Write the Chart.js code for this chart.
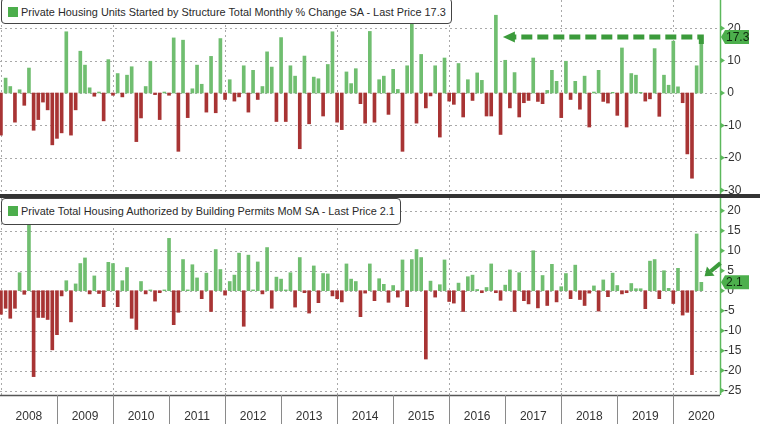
<!DOCTYPE html>
<html><head><meta charset="utf-8">
<script src="https://cdn.jsdelivr.net/npm/chart.js@4.4.1/dist/chart.umd.min.js"></script>
<style>
html,body{margin:0;padding:0;background:#fff;}
#wrap{position:relative;width:760px;height:432px;overflow:hidden;background:#fff;font-family:"Liberation Sans",Arial,sans-serif;}
canvas{position:absolute;left:0;}
#c1{top:0;}
#c2{top:198px;}
#sep{position:absolute;left:0;top:194px;width:760px;height:4px;background:#343434;}
.leg{position:absolute;left:1px;background:#fff;border:1px solid #444;border-radius:4px;font-size:10.9px;color:#2a2a2a;white-space:nowrap;line-height:24px;padding-left:19px;padding-right:5px;box-sizing:border-box;}
.leg i{position:absolute;left:6px;width:10px;height:10px;background:#4cae4c;}
#l1{top:-2px;height:26px;line-height:27px;}
#l1 i{top:8px;}
#l2{top:198px;height:27px;}
#l2 i{top:7px;}
</style></head>
<body><div id="wrap">
<canvas id="c1" width="760" height="194"></canvas>
<canvas id="c2" width="760" height="234"></canvas>
<div id="sep"></div>
<div class="leg" id="l1"><i></i>Private Housing Units Started by Structure Total Monthly % Change SA - Last Price 17.3</div>
<div class="leg" id="l2"><i></i>Private Total Housing Authorized by Building Permits MoM SA - Last Price 2.1</div>
</div>
<script>
const years = ['2008','2009','2010','2011','2012','2013','2014','2015','2016','2017','2018','2019','2020'];
const monthNames = ['Jan','Feb','Mar','Apr','May','Jun','Jul','Aug','Sep','Oct','Nov','Dec'];
const startTicks = [20,10,0,-10,-20,-30];
const permitTicks = [20,15,10,5,0,-5,-10,-15,-20,-25];

// Housing starts, monthly % change (Dec 2007 .. Jun 2020)
const startsPct = [
 -13, 4.6, 2, -9, 1, -3.8, 7.7, -11.5, -8.2, -2.8, -5.2, -16,
 -14, -12.3, 18.9, -13, -5.2, 12.9, 8.6, 1.6, -1, 0.3, -8.6, 10.3,
 -0.7, 6, -1.2, 5.5, 8.1, -15, -7.7, 2, 9.8, -0.5, -8.2, 0.3,
 -0.7, 17, -18, 16.3, -7.6, 1.3, 8.6, 2.7, -5.9, 11.3, -6.1, 16.8,
 -2, 4.1, -2.5, -1.2, 8.4, -5.9, 7, -2, 2, 12.7, 8, -8.8,
 17.1, -8.8, 8.4, 5.2, -17.2, 11.4, -9.5, 4.9, 4.4, -7.1, 8.8, 18.9,
 -9, -11.3, 6.5, 2.9, 7.5, -3.3, -9.3, 19, -9, 4.1, 5.2, -6.6,
 7.3, 1.1, -18, 8.4, 21.7, -9.3, 11.9, -4.6, -0.9, 8.4, -13.6, 10.8,
 -2.5, -3.5, 9.1, -7.4, 4.1, -2.3, 6.2, 3.9, -7.1, -7.1, 24, -12.8,
 10.1, -4.6, 6.3, -7.4, -3, -2.3, 10.8, -2.6, -3.3, 0.8, 7, 3.6,
 -7.6, 9.8, -2, 3.6, -5, 5.2, -10.5, 0.3, 7, -2.6, -3.1, 0.2,
 -6.9, 13.9, -10.5, 6, 5.5, 0.2, -2.5, -1.8, 13.7, -7.2, 5.5, 2.4,
 16, 1.9, -3, -18.8, -26.3, 8.4, 17.3
];
// Building permits, MoM % change (Dec 2007 .. Jun 2020)
const permitsPct = [
 -5.9, -4.4, -6.9, -4.4, 4.5, -0.9, 16.4, -21.5, -6.7, -6.7, -7.2, -14.8,
 -11, -1.3, 2.5, -7.8, 1.7, 6.8, 8.2, -0.8, 3.7, -0.7, -4, 7.1,
 6.8, -4, 2.5, 5.8, -6.9, -9.7, 2.3, -0.8, 0.2, -2.6, -0.5, 0.2,
 13.1, -8.5, -5.4, 7.8, 0.2, 6.5, 3.2, -2, 4.4, -5.2, 10.3, 5.3,
 -1.1, 2.3, 3.9, 9.4, -8.9, 8.9, 0.2, 7.2, -0.8, 10.8, -4.4, 3.4,
 2.9, 0.2, 4.5, -4.1, 8.3, -0.5, -5.6, 6.2, -3, 4.3, 4.2, -1.3,
 -2, -2.8, 6.7, 2.9, 2.3, -6.5, -0.6, 6.7, -2.5, 3, 1.6, -2.9,
 1.3, -1.6, 7.7, -4, 7.8, 10.3, 8.3, -17.1, 2.4, -1.6, 1.5, 7.7,
 -2.7, -3.1, 1.9, -5.2, 3.5, 3.9, 0.3, -0.5, 0.8, 6.7, -0.5, -2.4,
 1.4, 5.2, -5.2, 4.5, -2.5, -3.3, 10, -4.3, 3.8, -3.7, 6.6, -2.8,
 1, 4.3, -2, 6.4, -2.2, -3.7, -0.6, 1.2, -5.1, 2.7, -1.5, 4.4,
 1.3, -0.8, -0.5, 1.8, 0.5, 0.5, -4.5, 7.4, 7.8, -2, 5, 0.6,
 -3.2, 5.6, -6.1, -5.4, -21, 14.2, 2.1
];

const months = ['Dec 2007'];
years.forEach(y => monthNames.forEach(m => months.push(m + ' ' + y)));
months.length = startsPct.length;

const GREEN = '#70be70', RED = '#a83434', AXISGREEN = '#5cb85c', ANN = '#3b9b3b';

function tag(ctx, xL, yc, text) {
  ctx.save();
  ctx.fillStyle = '#4caf4c';
  ctx.beginPath();
  ctx.moveTo(xL, yc);
  ctx.lineTo(xL + 4, yc - 7);
  ctx.lineTo(xL + 28, yc - 7);
  ctx.lineTo(xL + 28, yc + 7);
  ctx.lineTo(xL + 4, yc + 7);
  ctx.closePath();
  ctx.fill();
  ctx.fillStyle = '#0e2a0e';
  ctx.font = '12px "Liberation Sans", Arial, sans-serif';
  ctx.textBaseline = 'middle';
  ctx.textAlign = 'left';
  ctx.fillText(text, xL + 5, yc + 0.5);
  ctx.restore();
}

const decor = {
  id: 'decor',
  beforeDatasetsDraw(chart, args, o) {
    const {ctx, chartArea: a, scales: {x, y}} = chart;
    ctx.save();
    ctx.strokeStyle = '#a9a9a9';
    ctx.lineWidth = 1;
    ctx.setLineDash([2, 3]);
    o.yTicks.forEach(v => {
      const py = Math.round(y.getPixelForValue(v)) + 0.5;
      ctx.beginPath(); ctx.moveTo(a.left, py); ctx.lineTo(a.right, py); ctx.stroke();
    });
    for (let i = 0; i < years.length; i += 2) {
      const px = Math.round(x.getPixelForValue(12 * i)) + 0.5;
      ctx.beginPath(); ctx.moveTo(px, a.top); ctx.lineTo(px, a.bottom); ctx.stroke();
    }
    ctx.restore();
  },
  afterDraw(chart, args, o) {
    const {ctx, chartArea: a, scales: {x, y}} = chart;
    ctx.save();
    ctx.strokeStyle = AXISGREEN; ctx.lineWidth = 1.5;
    ctx.beginPath(); ctx.moveTo(a.right + 0.5, a.top); ctx.lineTo(a.right + 0.5, a.bottom); ctx.stroke();
    ctx.fillStyle = AXISGREEN;
    o.yTicks.forEach(v => {
      const py = y.getPixelForValue(v);
      ctx.beginPath(); ctx.moveTo(a.right + 1, py - 2.5); ctx.lineTo(a.right + 5, py); ctx.lineTo(a.right + 1, py + 2.5); ctx.closePath(); ctx.fill();
    });
    if (o.bottomAxis) {
      ctx.strokeStyle = '#555'; ctx.lineWidth = 1.5;
      ctx.beginPath(); ctx.moveTo(0, a.bottom + 0.5); ctx.lineTo(a.right, a.bottom + 0.5); ctx.stroke();
      ctx.strokeStyle = '#8a8a8a'; ctx.lineWidth = 1;
      for (let i = 1; i < years.length; i++) {
        const px = Math.round(x.getPixelForValue(12 * i)) + 0.5;
        ctx.beginPath(); ctx.moveTo(px, a.bottom); ctx.lineTo(px, a.bottom + 29); ctx.stroke();
      }
    }
    const vals = chart.data.datasets[0].data;
    const last = vals[vals.length - 1];
    const lx = x.getPixelForValue(last.x), ly = y.getPixelForValue(last.y);
    if (o.dashedArrow) {
      const xs = x.getPixelForValue(o.dashedArrow.from);
      ctx.strokeStyle = ANN; ctx.lineWidth = 5; ctx.setLineDash([11, 5]);
      ctx.beginPath(); ctx.moveTo(lx, ly + 7); ctx.lineTo(lx, ly); ctx.lineTo(xs + 11, ly); ctx.stroke();
      ctx.setLineDash([]);
      ctx.fillStyle = ANN;
      ctx.beginPath(); ctx.moveTo(xs, ly); ctx.lineTo(xs + 12, ly - 5.5); ctx.lineTo(xs + 12, ly + 5.5); ctx.closePath(); ctx.fill();
    }
    if (o.arrow) {
      const tx = x.getPixelForValue(o.arrow.tip[0]), ty = y.getPixelForValue(o.arrow.tip[1]);
      const sx = x.getPixelForValue(o.arrow.tail[0]), sy = y.getPixelForValue(o.arrow.tail[1]);
      const ang = Math.atan2(ty - sy, tx - sx);
      const hx = tx - Math.cos(ang) * 8, hy = ty - Math.sin(ang) * 8;
      ctx.strokeStyle = ANN; ctx.lineWidth = 4; ctx.setLineDash([]);
      ctx.beginPath(); ctx.moveTo(sx, sy); ctx.lineTo(hx, hy); ctx.stroke();
      ctx.fillStyle = ANN;
      ctx.beginPath();
      ctx.moveTo(tx, ty);
      ctx.lineTo(hx + Math.cos(ang + Math.PI / 2) * 6, hy + Math.sin(ang + Math.PI / 2) * 6);
      ctx.lineTo(hx - Math.cos(ang + Math.PI / 2) * 6, hy - Math.sin(ang + Math.PI / 2) * 6);
      ctx.closePath(); ctx.fill();
    }
    ctx.restore();
    tag(ctx, a.right + 1, ly, String(last.y));
  }
};

function build(id, values, yTicks, ymin, ymax, showX, extra) {
  return new Chart(document.getElementById(id), {
    type: 'bar',
    data: {
      labels: months,
      datasets: [{
        data: values.map((v, i) => ({x: i, y: v})),
        backgroundColor: values.map(v => v >= 0 ? GREEN : RED),
        barThickness: 3,
        borderWidth: 0
      }]
    },
    options: {
      responsive: false, animation: false, devicePixelRatio: 1,
      layout: {padding: 0},
      plugins: {legend: {display: false}, tooltip: {enabled: false},
        decor: Object.assign({yTicks: yTicks}, extra)},
      scales: {
        x: {
          type: 'linear', min: -0.2, max: 154, display: showX, offset: false,
          grid: {display: false, drawTicks: false, offset: false}, border: {display: false},
          afterBuildTicks: s => { s.ticks = years.map((yr, i) => ({value: 12 * i + 6})); },
          ticks: {autoSkip: false, maxRotation: 0, minRotation: 0, padding: 14, color: '#333',
            font: {size: 12, family: '"Liberation Sans", Arial, sans-serif'},
            callback: v => years[Math.round((v - 6) / 12)]},
          afterFit: s => { if (showX) s.height = 37; s.paddingLeft = 0; s.paddingRight = 0; }
        },
        y: {
          position: 'right', min: ymin, max: ymax,
          grid: {display: false, drawTicks: false}, border: {display: false},
          afterBuildTicks: s => { s.ticks = yTicks.map(v => ({value: v})); },
          ticks: {padding: 4, color: '#333', font: {size: 12, family: '"Liberation Sans", Arial, sans-serif'},
            callback: v => (v < 0 ? String(v) : ' ' + v)},
          afterFit: s => { s.width = 40; s.paddingTop = 0; s.paddingBottom = 0; }
        }
      }
    },
    plugins: [decor]
  });
}

build('c1', startsPct, startTicks, -31.17, 28.7, false, {dashedArrow: {from: 107.5}});
build('c2', permitsPct, permitTicks, -26.1, 23.2, true, {bottomAxis: true, arrow: {tip: [150.7, 3.6], tail: [154.1, 6.9]}});
</script>
</body></html>
